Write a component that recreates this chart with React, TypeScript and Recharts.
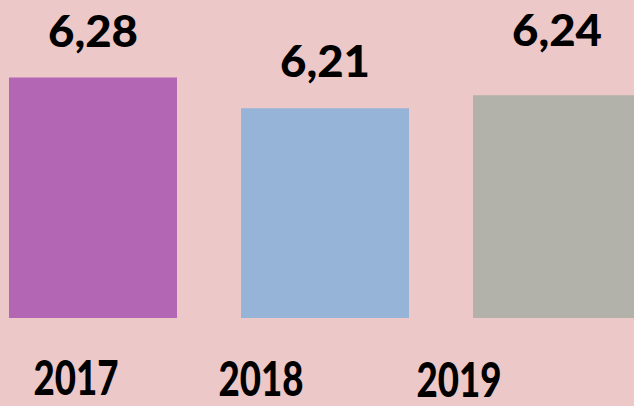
import React from 'react';
import { BarChart, Bar, XAxis, YAxis, Cell, LabelList } from 'recharts';

const years = ['2017', '2018', '2019'];
const values = [6.28, 6.21, 6.24];
const barColors = ['#B366B3', '#96B4D8', '#B2B2AB'];

// label nudges (px) – the source slide places these text boxes by hand
const valueLift = [0, 0, 18];
const yearShift = [-17, -64, -98];
const yearDrop = [0, 1, 2];

const data = years.map((year, i) => ({ year, value: values[i] }));

const FONT = 'Lato, "Open Sans", sans-serif';

const ValueLabel = (props: any) => {
  const { x, y, width, value, index } = props;
  return (
    <text
      x={x + width / 2}
      y={y - 31 - valueLift[index]}
      textAnchor="middle"
      fontFamily={FONT}
      fontWeight={900}
      fontSize={44}
      fill="#000"
      textLength={90}
      lengthAdjust="spacingAndGlyphs"
    >
      {Number(value).toFixed(2).replace('.', ',')}
    </text>
  );
};

const YearTick = (props: any) => {
  const { x, y, payload, index } = props;
  return (
    <text
      x={x + yearShift[index]}
      y={y + 69 + yearDrop[index]}
      textAnchor="middle"
      fontFamily={FONT}
      fontWeight={900}
      fontSize={47}
      fill="#000"
      textLength={85}
      lengthAdjust="spacingAndGlyphs"
    >
      {payload.value}
    </text>
  );
};

export default function App() {
  return (
    <div
      style={{
        position: 'absolute',
        left: 0,
        top: 0,
        width: 634,
        height: 406,
        overflow: 'hidden',
        background: '#ECC8C8',
      }}
    >
      <div style={{ position: 'absolute', left: -23, top: 0 }}>
        <BarChart
          width={696}
          height={406}
          data={data}
          margin={{ top: 0, right: 0, bottom: 0, left: 0 }}
        >
          <XAxis
            dataKey="year"
            height={88}
            axisLine={false}
            tickLine={false}
            interval={0}
            tick={<YearTick />}
          />
          <YAxis hide domain={[5.734, 6.456]} allowDataOverflow />
          <Bar dataKey="value" barSize={168} isAnimationActive={false}>
            {data.map((d, i) => (
              <Cell key={d.year} fill={barColors[i]} />
            ))}
            <LabelList dataKey="value" content={<ValueLabel />} />
          </Bar>
        </BarChart>
      </div>
    </div>
  );
}
